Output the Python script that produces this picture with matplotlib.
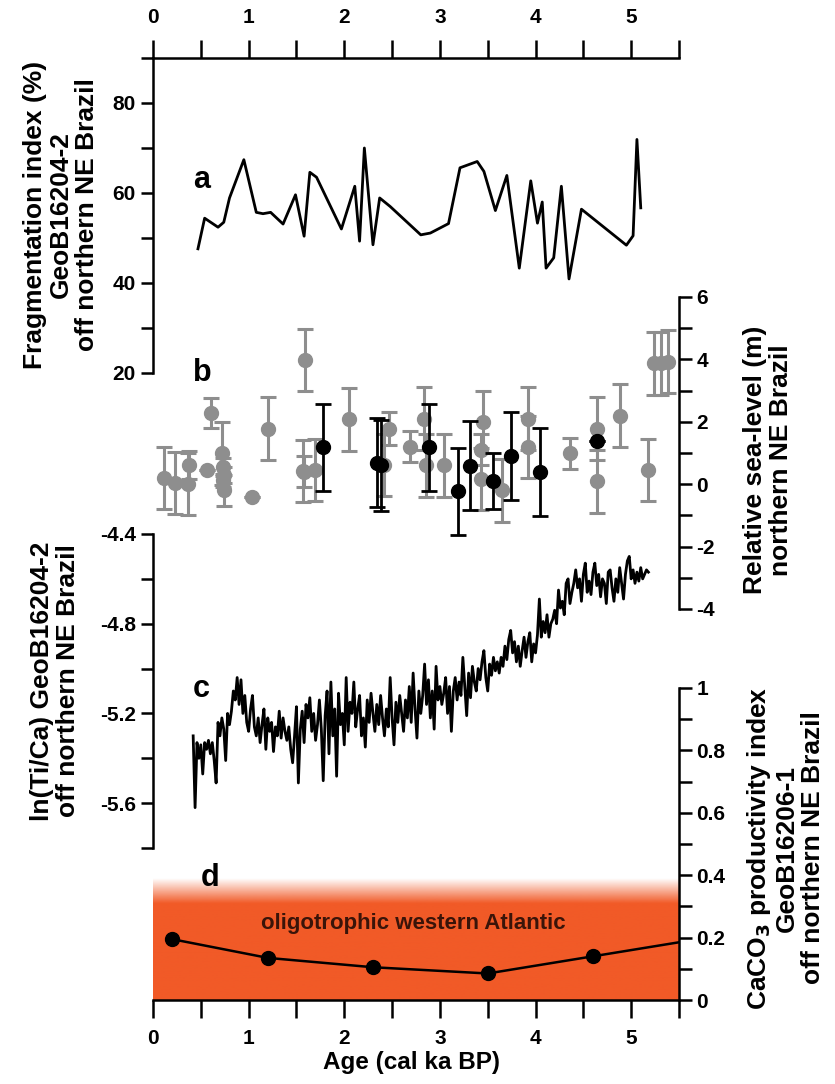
import numpy as np
import matplotlib
matplotlib.use("Agg")
import matplotlib.pyplot as plt
from matplotlib.ticker import MultipleLocator, FuncFormatter
from matplotlib.colors import to_rgb

plt.rcParams['font.family'] = ['Liberation Sans', 'DejaVu Sans']
plt.rcParams['font.weight'] = 'bold'
plt.rcParams['axes.unicode_minus'] = False

# ---- data ----
# a: fragmentation index (%)
frag_age = [0.47, 0.54, 0.68, 0.74, 0.80, 0.95, 1.08, 1.15, 1.23, 1.36, 1.49, 1.58,
            1.64, 1.71, 1.97, 2.11, 2.16, 2.21, 2.30, 2.37, 2.48, 2.80, 2.90, 3.09,
            3.21, 3.39, 3.46, 3.58, 3.70, 3.83, 3.95, 4.02, 4.07, 4.11, 4.19, 4.27,
            4.35, 4.48, 4.95, 5.02, 5.06, 5.10]
frag_val = [47.6, 54.4, 52.4, 53.5, 58.9, 67.4, 55.7, 55.4, 55.7, 53.1, 59.6, 50.4,
            64.6, 63.5, 52.0, 61.5, 49.3, 70.0, 48.5, 58.9, 57.0, 50.7, 51.1, 53.2,
            65.6, 67.0, 64.8, 56.1, 63.9, 43.3, 62.7, 53.3, 58.0, 43.3, 45.6, 61.5,
            40.9, 56.4, 48.4, 50.5, 71.9, 56.7]

# b: relative sea level (m), grey and black indicators
sl_grey_age = [0.12, 0.23, 0.37, 0.38, 0.56, 0.61, 0.72, 0.73, 0.74, 0.73, 0.74, 1.04,
               1.20, 1.59, 1.57, 1.58, 1.69, 2.05, 2.47, 2.42, 2.69, 2.83, 2.85, 3.04,
               3.45, 3.43, 3.43, 3.65, 3.92, 3.92, 4.36, 4.64, 4.64, 4.88, 5.18, 5.24,
               5.31, 5.39]
sl_grey_val = [0.20, 0.04, 0.00, 0.62, 0.46, 2.28, 0.99, 0.55, 0.30, 0.12, -0.20, -0.42,
               1.78, 3.99, 0.43, 0.40, 0.46, 2.08, 1.78, 0.62, 1.20, 2.10, 0.60, 0.60,
               2.00, 1.10, 0.17, -0.20, 2.10, 1.20, 0.99, 1.78, 0.09, 2.20, 0.46, 3.87,
               3.87, 3.93]
sl_grey_err = [1.0, 1.0, 1.0, 0.45, 0.0, 0.48, 1.0, 0.3, 0.25, 0.2, 0.5, 0.0,
               1.0, 1.0, 1.0, 0.5, 1.0, 1.0, 0.52, 1.0, 0.5, 1.0, 1.0, 1.0,
               1.0, 0.5, 1.0, 1.0, 1.0, 1.0, 0.5, 1.0, 1.0, 1.0, 1.0, 1.0,
               1.0, 1.0]
sl_black_age = [1.78, 2.34, 2.38, 2.89, 3.19, 3.31, 3.56, 3.74, 4.05, 4.64]
sl_black_val = [1.18, 0.69, 0.60, 1.18, -0.23, 0.59, 0.09, 0.90, 0.38, 1.38]
sl_black_err = [1.40, 1.42, 1.45, 1.40, 1.40, 1.42, 0.90, 1.40, 1.41, 0.0]

# c: ln(Ti/Ca), sampled every 0.02 ka from 0.42 to 5.18 ka
tica_age = np.round(np.arange(0.42, 5.181, 0.02), 2)
tica_val = [
    -5.30, -5.62, -5.33, -5.40, -5.34, -5.47, -5.33, -5.36, -5.32, -5.38,
    -5.33, -5.41, -5.51, -5.24, -5.30, -5.22, -5.27, -5.41, -5.20, -5.25,
    -5.19, -5.10, -5.14, -5.04, -5.16, -5.05, -5.20, -5.12, -5.24, -5.28,
    -5.18, -5.12, -5.26, -5.30, -5.22, -5.33, -5.25, -5.18, -5.36, -5.22,
    -5.28, -5.24, -5.37, -5.26, -5.30, -5.19, -5.31, -5.22, -5.28, -5.32,
    -5.26, -5.36, -5.42, -5.30, -5.17, -5.51, -5.27, -5.19, -5.33, -5.16,
    -5.22, -5.13, -5.28, -5.20, -5.32, -5.25, -5.14, -5.27, -5.50, -5.21,
    -5.10, -5.38, -5.06, -5.30, -5.18, -5.48, -5.11, -5.25, -5.20, -5.34,
    -5.04, -5.28, -5.15, -5.20, -5.06, -5.26, -5.18, -5.12, -5.30, -5.22,
    -5.35, -5.14, -5.24, -5.11, -5.20, -5.28, -5.16, -5.25, -5.12, -5.22,
    -5.30, -5.18, -5.26, -5.04, -5.22, -5.34, -5.15, -5.24, -5.12, -5.20,
    -5.28, -5.14, -5.22, -5.08, -5.24, -5.02, -5.18, -5.31, -5.10, -5.20,
    -5.12, -4.98, -5.16, -5.05, -5.22, -5.10, -5.27, -4.99, -5.14, -5.08,
    -5.16, -5.11, -5.04, -5.20, -5.08, -5.28, -5.10, -5.04, -5.14, -5.06,
    -5.12, -4.95, -5.08, -5.21, -5.02, -5.13, -4.99, -5.06, -5.10, -5.00,
    -5.05, -4.97, -4.92, -5.04, -5.10, -4.98, -5.03, -4.95, -5.01, -4.97,
    -5.02, -4.95, -4.99, -4.90, -4.96, -4.87, -4.83, -4.93, -4.88, -4.97,
    -4.90, -4.99, -4.92, -4.86, -4.95, -4.88, -4.84, -4.97, -4.89, -4.93,
    -4.85, -4.69, -4.86, -4.79, -4.84, -4.76, -4.86, -4.80, -4.78, -4.74,
    -4.80, -4.65, -4.73, -4.70, -4.76, -4.62, -4.60, -4.71, -4.66, -4.62,
    -4.56, -4.64, -4.60, -4.70, -4.58, -4.53, -4.66, -4.61, -4.67, -4.57,
    -4.53, -4.63, -4.58, -4.68, -4.60, -4.62, -4.71, -4.57, -4.56, -4.64,
    -4.70, -4.60, -4.66, -4.55, -4.62, -4.69, -4.58, -4.52, -4.50, -4.60,
    -4.56, -4.62, -4.57, -4.61, -4.55, -4.60, -4.58, -4.56, -4.57]

# d: CaCO3 productivity index
prod_age = [0.2, 1.2, 2.3, 3.5, 4.6, 5.8]
prod_val = [0.195, 0.135, 0.105, 0.085, 0.14, 0.20]

# ---- layout ----
fig = plt.figure(figsize=(8.35, 10.84), dpi=100)
L, W = 153 / 835, 526 / 835


def fy(py):
    return 1 - py / 1084


ax_a = fig.add_axes([L, fy(373), W, fy(58) - fy(373)])
ax_b = fig.add_axes([L, fy(609), W, fy(297) - fy(609)])
ax_c = fig.add_axes([L, fy(848), W, fy(534) - fy(848)])
ax_d = fig.add_axes([L, fy(1000), W, fy(688) - fy(1000)])

fmt = FuncFormatter(lambda v, p: f"{v:g}")
TS = 15
for ax in (ax_a, ax_b, ax_c, ax_d):
    ax.patch.set_visible(False)
    for s in ax.spines.values():
        s.set_visible(False)
        s.set_linewidth(1.8)
    ax.set_xlim(0, 5.5)
    ax.tick_params(which='both', direction='out', width=1.8, length=9, labelsize=TS)
    ax.yaxis.set_major_formatter(fmt)

# a
ax_a.plot(frag_age, frag_val, color='black', lw=2)
ax_a.set_ylim(20, 90)
ax_a.spines['left'].set_visible(True)
ax_a.spines['top'].set_visible(True)
ax_a.xaxis.set_ticks_position('top')
ax_a.xaxis.set_major_locator(MultipleLocator(1))
ax_a.xaxis.set_minor_locator(MultipleLocator(0.5))
ax_a.tick_params(axis='x', which='both', length=13, pad=9)
ax_a.yaxis.set_major_locator(MultipleLocator(20))
ax_a.yaxis.set_minor_locator(MultipleLocator(10))
ax_a.text(0.42, 63, 'a', fontsize=22, fontweight='bold', va='center')

# b
grey = '#8e8e8e'
ax_b.errorbar(sl_grey_age, sl_grey_val, yerr=sl_grey_err, fmt='o', color=grey,
              ms=10, elinewidth=2.2, capsize=6, capthick=2.2, zorder=2)
ax_b.errorbar(sl_black_age, sl_black_val, yerr=sl_black_err, fmt='o', color='black',
              ms=10, elinewidth=2.0, capsize=6, capthick=2.0, zorder=3)
ax_b.set_ylim(-4, 6)
ax_b.set_xlim(0, 5.5)
ax_b.spines['right'].set_visible(True)
ax_b.yaxis.set_ticks_position('right')
ax_b.xaxis.set_visible(False)
ax_b.yaxis.set_major_locator(MultipleLocator(2))
ax_b.yaxis.set_minor_locator(MultipleLocator(1))
ax_b.text(0.42, 3.56, 'b', fontsize=22, fontweight='bold', va='center')

# c
ax_c.plot(tica_age, tica_val, color='black', lw=2)
ax_c.set_ylim(-5.8, -4.4)
ax_c.spines['left'].set_visible(True)
ax_c.xaxis.set_visible(False)
ax_c.yaxis.set_major_locator(MultipleLocator(0.4))
ax_c.yaxis.set_minor_locator(MultipleLocator(0.2))
ax_c.yaxis.set_major_formatter(FuncFormatter(lambda v, p: f"{v:.1f}" if v > -5.75 else ''))
ax_c.text(0.42, -5.09, 'c', fontsize=22, fontweight='bold', va='center')

# d
orange = to_rgb('#F15A27')
alpha = np.clip((0.39 - np.linspace(0, 0.39, 200)) / 0.08, 0, 1)
img = np.zeros((200, 1, 4))
img[:, 0, :3] = orange
img[:, 0, 3] = alpha
ax_d.imshow(img, extent=[0, 5.5, 0, 0.39], origin='lower', aspect='auto', zorder=0)
ax_d.plot(prod_age, prod_val, color='black', lw=1.8, marker='o', ms=10, zorder=3)
ax_d.text(2.72, 0.245, 'oligotrophic western Atlantic', fontsize=16, fontweight='bold',
          color='#3a1409', ha='center', va='center')
ax_d.set_xlim(0, 5.5)
ax_d.set_ylim(0, 1)
ax_d.spines['right'].set_visible(True)
ax_d.spines['bottom'].set_visible(True)
ax_d.yaxis.set_ticks_position('right')
ax_d.xaxis.set_ticks_position('bottom')
ax_d.xaxis.set_major_locator(MultipleLocator(1))
ax_d.xaxis.set_minor_locator(MultipleLocator(0.5))
ax_d.tick_params(axis='x', which='both', length=13, pad=8)
ax_d.yaxis.set_major_locator(MultipleLocator(0.2))
ax_d.yaxis.set_minor_locator(MultipleLocator(0.1))
ax_d.text(0.5, 0.39, 'd', fontsize=22, fontweight='bold', va='center')

# axis titles
LS = 19
fig.text(0.073, fy(215), 'Fragmentation index (%)\nGeoB16204-2\noff northern NE Brazil',
         rotation=90, ha='center', va='center', fontsize=LS, fontweight='bold', linespacing=1.1)
fig.text(0.066, fy(681), 'ln(Ti/Ca) GeoB16204-2\noff northern NE Brazil',
         rotation=90, ha='center', va='center', fontsize=LS, fontweight='bold', linespacing=1.1)
fig.text(0.92, fy(460), 'Relative sea-level (m)\nnorthern NE Brazil',
         rotation=90, ha='center', va='center', fontsize=LS, fontweight='bold', linespacing=1.1)
fig.text(0.94, fy(848), 'CaCO$_\\mathbf{3}$ productivity index\nGeoB16206-1\noff northern NE Brazil',
         rotation=90, ha='center', va='center', fontsize=LS, fontweight='bold', linespacing=1.1)
fig.text(0.493, fy(1062), 'Age (cal ka BP)', ha='center', va='center', fontsize=17.5,
         fontweight='bold')

fig.savefig('out.png', dpi=100)
